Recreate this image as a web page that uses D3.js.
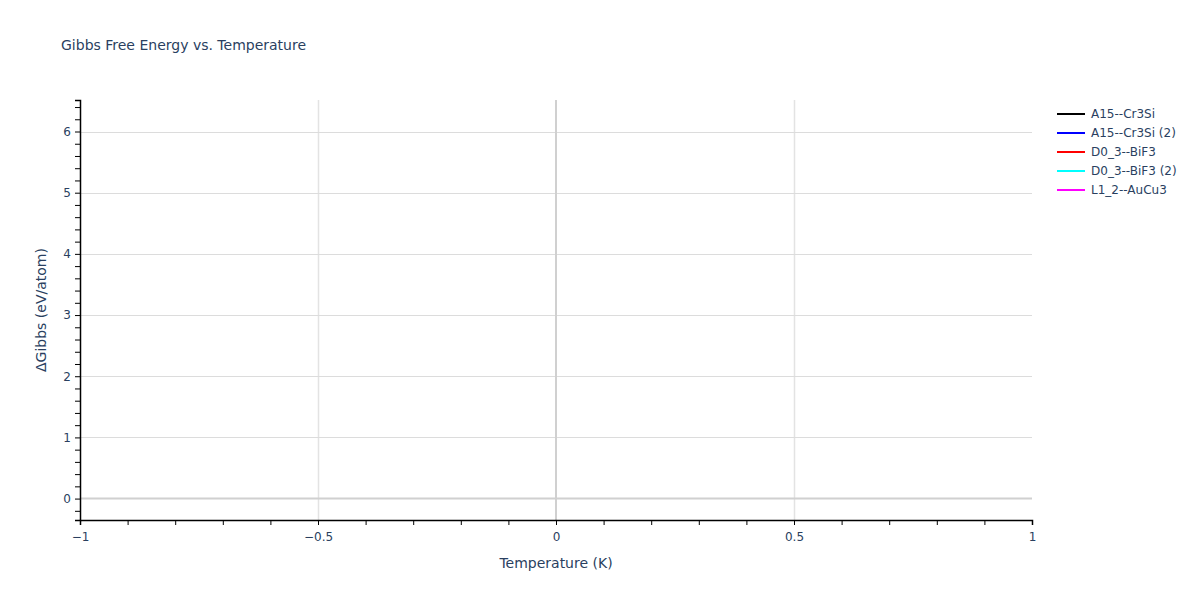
<!DOCTYPE html>
<html>
<head>
<meta charset="utf-8">
<script src="https://cdn.jsdelivr.net/npm/d3@7"></script>
<style>
  body { margin: 0; background: #fff; }
  svg { font-family: "DejaVu Sans", Verdana, sans-serif; }
  text { fill: #2a3f5f; }
</style>
</head>
<body>
<svg id="chart" width="1200" height="600"></svg>
<script>
// series shown in the legend; the reference plot has no visible points
const seriesNames = ['A15--Cr3Si', 'A15--Cr3Si (2)', 'D0_3--BiF3', 'D0_3--BiF3 (2)', 'L1_2--AuCu3'];
const seriesColors = ['black', 'blue', 'red', 'cyan', 'magenta'];
const temperatures = [];
const gibbsValues = [[], [], [], [], []];

const xDomain = [-1, 1];
const yDomain = [-0.35, 6.515];
const xTicks = [-1, -0.5, 0, 0.5, 1];
const yTicks = [0, 1, 2, 3, 4, 5, 6];

const svg = d3.select('#chart'),
    m = {left: 80, right: 168, top: 100, bottom: 80},
    W = 1200, H = 600;

const x = d3.scaleLinear().domain(xDomain).range([m.left, W - m.right]),
    y = d3.scaleLinear().domain(yDomain).range([H - m.bottom, m.top]);

// grid
const grid = svg.append('g');
grid.selectAll('line.gx').data(xTicks.filter(d => d !== 0 && d !== xDomain[0] && d !== xDomain[1])).enter()
    .append('line').attr('x1', d => Math.round(x(d)) + 0.5).attr('x2', d => Math.round(x(d)) + 0.5)
    .attr('y1', m.top).attr('y2', H - m.bottom)
    .attr('stroke', '#e3e3e3').attr('stroke-width', 1.5);
grid.selectAll('line.gy').data(yTicks.filter(d => d !== 0)).enter()
    .append('line').attr('x1', m.left).attr('x2', W - m.right)
    .attr('y1', d => Math.round(y(d)) + 0.5).attr('y2', d => Math.round(y(d)) + 0.5)
    .attr('stroke', '#dcdcdc').attr('stroke-width', 1);
// zero lines
grid.append('line').attr('x1', x(0)).attr('x2', x(0)).attr('y1', m.top).attr('y2', H - m.bottom)
    .attr('stroke', '#d0d0d0').attr('stroke-width', 2);
grid.append('line').attr('x1', m.left).attr('x2', W - m.right).attr('y1', y(0)).attr('y2', y(0))
    .attr('stroke', '#d0d0d0').attr('stroke-width', 2);

// lines (empty in the reference)
const line = d3.line().x((d, i) => x(temperatures[i])).y(d => y(d));
svg.append('g').selectAll('path').data(gibbsValues).enter().append('path')
    .attr('d', d => d.length ? line(d) : null)
    .attr('fill', 'none').attr('stroke-width', 2)
    .attr('stroke', (d, i) => seriesColors[i]);

// axes
const xAxis = svg.append('g').attr('transform', `translate(0,${H - m.bottom})`)
    .call(d3.axisBottom(x).tickValues(d3.range(-10, 11).map(d => d / 10)).tickSize(5)
        .tickFormat(d => xTicks.some(t => Math.abs(t - d) < 1e-9) ? d3.format('')(d).replace('-', '\u2212') : ''));
const yAxis = svg.append('g').attr('transform', `translate(${m.left},0)`)
    .call(d3.axisLeft(y).tickValues(d3.range(-1, 33).map(d => d / 5)).tickSize(5)
        .tickFormat(d => yTicks.some(t => Math.abs(t - d) < 1e-9) ? d3.format('')(d) : ''));
[xAxis, yAxis].forEach(a => {
    a.select('.domain').attr('stroke', '#000').attr('stroke-width', 1.5);
    a.selectAll('.tick line').attr('stroke', '#000');
    a.selectAll('.tick text').attr('font-size', 12).attr('fill', '#2a3f5f')
        .style('font-family', '"DejaVu Sans", Verdana, sans-serif');
});
xAxis.selectAll('.tick text').attr('dy', '1.05em');
yAxis.selectAll('.tick text').attr('dx', '-0.1em');

// titles
svg.append('text').attr('x', 61).attr('y', 50).attr('font-size', 14)
    .text('Gibbs Free Energy vs. Temperature');
svg.append('text').attr('x', (m.left + W - m.right) / 2).attr('y', 568)
    .attr('text-anchor', 'middle').attr('font-size', 14).text('Temperature (K)');
svg.append('text').attr('transform', `translate(46,${(m.top + H - m.bottom) / 2}) rotate(-90)`)
    .attr('text-anchor', 'middle').attr('font-size', 14).text('\u0394Gibbs (eV/atom)');

// legend
const legend = svg.append('g').attr('transform', 'translate(1057,114)');
const items = legend.selectAll('g').data(seriesNames).enter().append('g')
    .attr('transform', (d, i) => `translate(0,${i * 19})`);
items.append('line').attr('x1', 0).attr('x2', 28).attr('y1', 0).attr('y2', 0)
    .attr('stroke', (d, i) => seriesColors[i]).attr('stroke-width', 2);
items.append('text').attr('x', 34).attr('y', 4).attr('font-size', 12).text(d => d);
</script>
</body>
</html>
